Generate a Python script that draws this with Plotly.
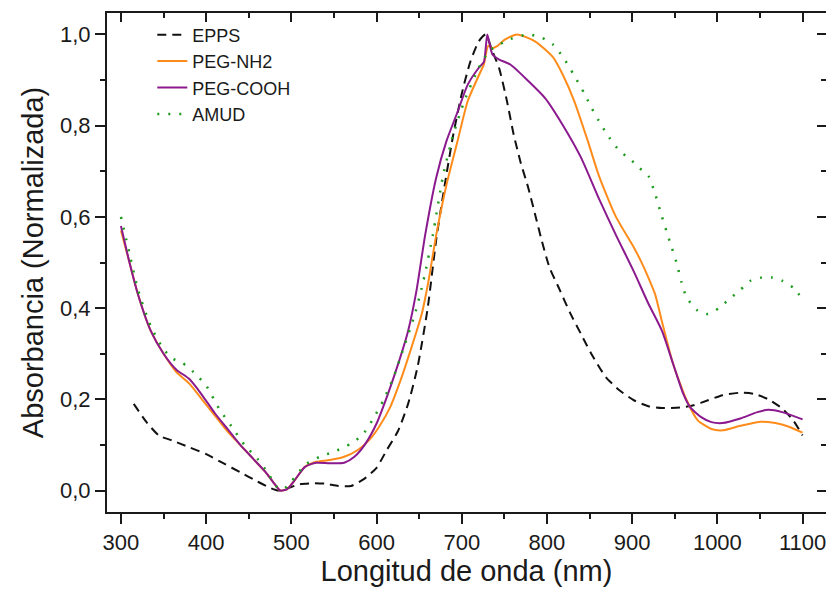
import plotly.graph_objects as go

# ---- data ----
epps_nm = [315, 330, 345, 360, 380, 400, 420, 440, 460, 475, 485, 495, 510, 525, 540, 555, 570, 585, 600, 612,
           625, 637, 648, 660, 670, 680, 690, 700, 710, 720, 728, 736, 744, 753, 761, 769, 778, 786, 794, 803,
           815, 827, 840, 852, 869, 885, 902, 919, 935, 956, 972, 989, 1006, 1027, 1043, 1060, 1076, 1089, 1100]
epps_abs = [0.19, 0.15, 0.12, 0.11, 0.095, 0.08, 0.06, 0.04, 0.02, 0.006, 0.0, 0.005, 0.014, 0.016, 0.015, 0.01,
            0.01, 0.025, 0.05, 0.089, 0.13, 0.19, 0.27, 0.40, 0.55, 0.67, 0.78, 0.87, 0.94, 0.985, 1.0, 0.963,
            0.925, 0.854, 0.78, 0.72, 0.664, 0.606, 0.547, 0.489, 0.44, 0.39, 0.343, 0.30, 0.249, 0.22, 0.198,
            0.185, 0.181, 0.182, 0.187, 0.198, 0.209, 0.2145, 0.212, 0.2, 0.18, 0.154, 0.121]

nh2_nm = [300, 310, 320, 335, 350, 365, 380, 395, 410, 425, 440, 455, 470, 480, 487, 495, 504, 516, 529, 545,
          562, 578, 591, 603, 616, 628, 641, 653, 661, 670, 682, 695, 707, 720, 726, 731, 736, 742, 750, 765,
          786, 807, 819, 832, 848, 861, 881, 902, 910, 919, 927, 935, 948, 964, 977, 993, 1006, 1027, 1051,
          1068, 1084, 1100]
nh2_abs = [0.57, 0.5, 0.43, 0.35, 0.3, 0.26, 0.235, 0.2, 0.165, 0.13, 0.1, 0.07, 0.04, 0.015, 0.0, 0.003, 0.023,
           0.052, 0.063, 0.067, 0.074, 0.089, 0.11, 0.14, 0.183, 0.241, 0.314, 0.387, 0.46, 0.56, 0.67, 0.766,
           0.854, 0.91, 0.935, 0.975, 0.97, 0.975, 0.988, 1.0, 0.985, 0.95, 0.91, 0.854, 0.766, 0.69, 0.6, 0.533,
           0.504, 0.467, 0.43, 0.37, 0.278, 0.198, 0.154, 0.135, 0.132, 0.142, 0.151, 0.148, 0.14, 0.127]

cooh_nm = [300, 310, 320, 335, 350, 365, 380, 395, 410, 425, 440, 455, 470, 480, 487, 495, 504, 516, 529, 545,
           562, 574, 587, 600, 612, 624, 637, 647, 657, 670, 682, 695, 707, 720, 726, 730, 736, 744, 757, 778,
           798, 819, 840, 861, 881, 902, 919, 935, 948, 960, 968, 981, 993, 1006, 1027, 1047, 1060, 1076, 1100]
cooh_abs = [0.58, 0.5, 0.43, 0.35, 0.3, 0.265, 0.245, 0.21, 0.17, 0.135, 0.1, 0.07, 0.04, 0.015, 0.0, 0.003,
            0.023, 0.052, 0.061, 0.06, 0.061, 0.074, 0.103, 0.147, 0.205, 0.27, 0.35, 0.44, 0.56, 0.686, 0.766,
            0.83, 0.89, 0.927, 0.94, 1.0, 0.956, 0.945, 0.934, 0.898, 0.86, 0.80, 0.73, 0.64, 0.56, 0.48, 0.41,
            0.35, 0.278, 0.212, 0.183, 0.161, 0.15, 0.148, 0.158, 0.172, 0.177, 0.172, 0.156]

amud_nm = [300, 310, 320, 335, 350, 360, 372, 385, 400, 415, 430, 445, 460, 472, 482, 490, 500, 516, 533, 550,
           570, 583, 595, 608, 620, 632, 645, 655, 666, 678, 690, 703, 720, 732, 744, 757, 778, 794, 807, 819,
           832, 844, 852, 861, 873, 885, 898, 908, 919, 927, 935, 944, 952, 958, 964, 977, 989, 1002, 1014,
           1027, 1039, 1052, 1064, 1076, 1089, 1100]
amud_abs = [0.60, 0.52, 0.44, 0.36, 0.31, 0.29, 0.28, 0.26, 0.23, 0.18, 0.14, 0.1, 0.07, 0.04, 0.01, 0.002, 0.02,
            0.056, 0.074, 0.085, 0.103, 0.121, 0.154, 0.198, 0.249, 0.314, 0.387, 0.46, 0.56, 0.69, 0.78, 0.854,
            0.927, 0.963, 0.978, 0.99, 1.0, 0.993, 0.978, 0.95, 0.91, 0.87, 0.84, 0.81, 0.774, 0.745, 0.726,
            0.708, 0.69, 0.65, 0.6, 0.547, 0.5, 0.456, 0.423, 0.394, 0.387, 0.40, 0.42, 0.44, 0.46, 0.467,
            0.467, 0.46, 0.445, 0.42]

series_names = ["EPPS", "PEG-NH2", "PEG-COOH", "AMUD"]

FONT = "Liberation Sans, Arial, sans-serif"
AX = "#1a1a1a"
x_range = [283.6, 1127.5]
y_range = [-0.047, 1.047]

fig = go.Figure()
fig.add_trace(go.Scatter(x=epps_nm, y=epps_abs, name=series_names[0], mode="lines",
                         line=dict(color="#111111", width=2, dash="9px,6px", shape="spline", smoothing=0.6)))
fig.add_trace(go.Scatter(x=nh2_nm, y=nh2_abs, name=series_names[1], mode="lines",
                         line=dict(color="#FF8C1A", width=2, shape="spline", smoothing=0.6)))
fig.add_trace(go.Scatter(x=cooh_nm, y=cooh_abs, name=series_names[2], mode="lines",
                         line=dict(color="#8B1A8E", width=2, shape="spline", smoothing=0.6)))
fig.add_trace(go.Scatter(x=amud_nm, y=amud_abs, name=series_names[3], mode="lines",
                         line=dict(color="#1E9A1E", width=2.5, dash="2px,9px", shape="spline", smoothing=0.6)))
# helper (empty) trace so the mirrored top/right axes with inward ticks are drawn
fig.add_trace(go.Scatter(x=[], y=[], xaxis="x2", yaxis="y2", showlegend=False, hoverinfo="skip"))

common = dict(showgrid=False, zeroline=False, color=AX)
fig.update_layout(
    width=834, height=590,
    margin=dict(l=99, r=16, t=3, b=86),
    paper_bgcolor="white", plot_bgcolor="white",
    separators=",.",
    font=dict(family=FONT, color=AX),
    showlegend=True,
    legend=dict(x=0.063, y=0.993, xanchor="left", yanchor="top", bgcolor="rgba(0,0,0,0)",
                font=dict(size=18, family=FONT, color=AX), tracegroupgap=0),
    xaxis=dict(range=x_range, tick0=300, dtick=100, ticks="outside", ticklen=10, tickwidth=2, tickcolor=AX,
               showline=True, linewidth=2, linecolor=AX, mirror=True,
               minor=dict(ticks="outside", ticklen=5, tickwidth=2, tickcolor=AX, dtick=50, tick0=300),
               tickfont=dict(size=22, family=FONT, color=AX),
               title=dict(text="Longitud de onda (nm)", font=dict(size=29, family=FONT, color=AX), standoff=6),
               **common),
    yaxis=dict(range=y_range, tick0=0, dtick=0.2, tickformat=".1f", ticks="outside", ticklen=10, tickwidth=2,
               tickcolor=AX, showline=True, linewidth=2, linecolor=AX, mirror=True,
               minor=dict(ticks="outside", ticklen=5, tickwidth=2, tickcolor=AX, dtick=0.1, tick0=0),
               tickfont=dict(size=22, family=FONT, color=AX),
               title=dict(text="Absorbancia (Normalizada)", font=dict(size=29, family=FONT, color=AX), standoff=8),
               **common),
    xaxis2=dict(range=x_range, overlaying="x", side="top", anchor="y", tick0=300, dtick=100, ticks="inside",
                ticklen=9, tickwidth=2, tickcolor=AX, showticklabels=False, showline=False,
                minor=dict(ticks="inside", ticklen=5, tickwidth=2, tickcolor=AX, dtick=50, tick0=300),
                **common),
    yaxis2=dict(range=y_range, overlaying="y", side="right", anchor="x", tick0=0, dtick=0.2, ticks="inside",
                ticklen=9, tickwidth=2, tickcolor=AX, showticklabels=False, showline=False,
                minor=dict(ticks="inside", ticklen=5, tickwidth=2, tickcolor=AX, dtick=0.1, tick0=0),
                **common),
)

fig.write_html("out.html")
